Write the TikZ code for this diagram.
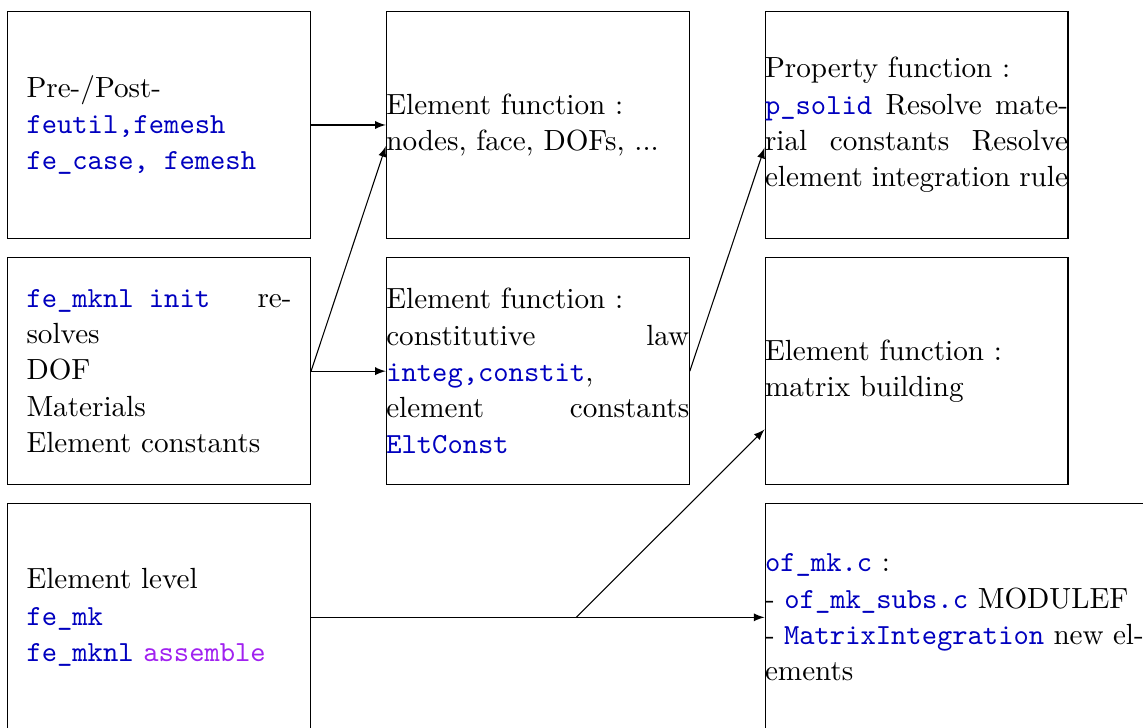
\documentclass[11pt,tikz,border=0pt]{standalone}
\usetikzlibrary{arrows,calc}
\definecolor{codeblue}{rgb}{0,0,0.75}
\definecolor{codepurple}{rgb}{0.63,0.13,0.94}
\newcommand{\code}[1]{\textcolor{codeblue}{\texttt{#1}}}

\begin{document}
\begin{tikzpicture}[
  box/.style={draw, minimum width=4cm, minimum height=3cm, inner sep=0pt,
    text width=4cm, align=justify},
  leftbox/.style={box, text width=3.5cm},
  link/.style={-latex}]

\useasboundingbox (0,0) rectangle (15.09,9.6);
\clip (0,0) rectangle (15.09,9.6); % Clips the last row and the wide box...

% first column
\node[leftbox] (PrePost) at (2.1,7.95)
  {Pre-/Post-\\ \code{feutil,femesh}\\ \code{fe\_case, femesh}};
\node[leftbox] (MknlInit) at (2.1,4.7)
  {\code{fe\_mknl init} re-\linebreak solves\\ DOF\\ Materials\\ Element constants};
\node[leftbox] (EltLevel) at (2.1,1.45)
  {Element level\\ \code{fe\_mk}\\ \code{fe\_mknl} \textcolor{codepurple}{\texttt{assemble}}};

% second column
\node[box] (EltNodes) at (7.1,7.95)
  {Element function :\\ nodes, face, DOFs, ...};
\node[box] (EltConstit) at (7.1,4.7)
  {Element function :\\ constitutive law \code{integ,constit},\\ element constants \code{EltConst}};

% third column
\node[box] (PropFun) at (12.1,7.95)
  {Property function :\\ \code{p\_solid} Resolve material constants Resolve element integration rule};
\node[box] (EltMatrix) at (12.1,4.7)
  {Element function :\\ matrix building};
\node[box, minimum width=5cm, text width=5cm] (OfMk) at (12.6,1.45)
  {\code{of\_mk.c} :\\ - \code{of\_mk\_subs.c} MODULEF\\ - \code{MatrixIntegration} new elements};

\coordinate (EltNodesIn)  at ($(EltNodes.west)+(0,-0.28)$);
\coordinate (PropFunIn)   at ($(PropFun.west)+(0,-0.3)$);
\coordinate (EltMatrixIn) at ($(EltMatrix.west)+(0,-0.77)$);
\coordinate (Fork)        at ($(EltLevel.east)+(3.5,0)$);

\draw [link] (PrePost.east) -- (EltNodes.west);
\draw [link] (MknlInit.east) -- (EltNodesIn);
\draw [link] (MknlInit.east) -- (EltConstit.west);
\draw [link] (EltConstit.east) -- (PropFunIn);
\draw [link] (EltLevel.east) -- (OfMk.west);
\draw [link] (Fork) -- (EltMatrixIn);
\end{tikzpicture}
\end{document}
